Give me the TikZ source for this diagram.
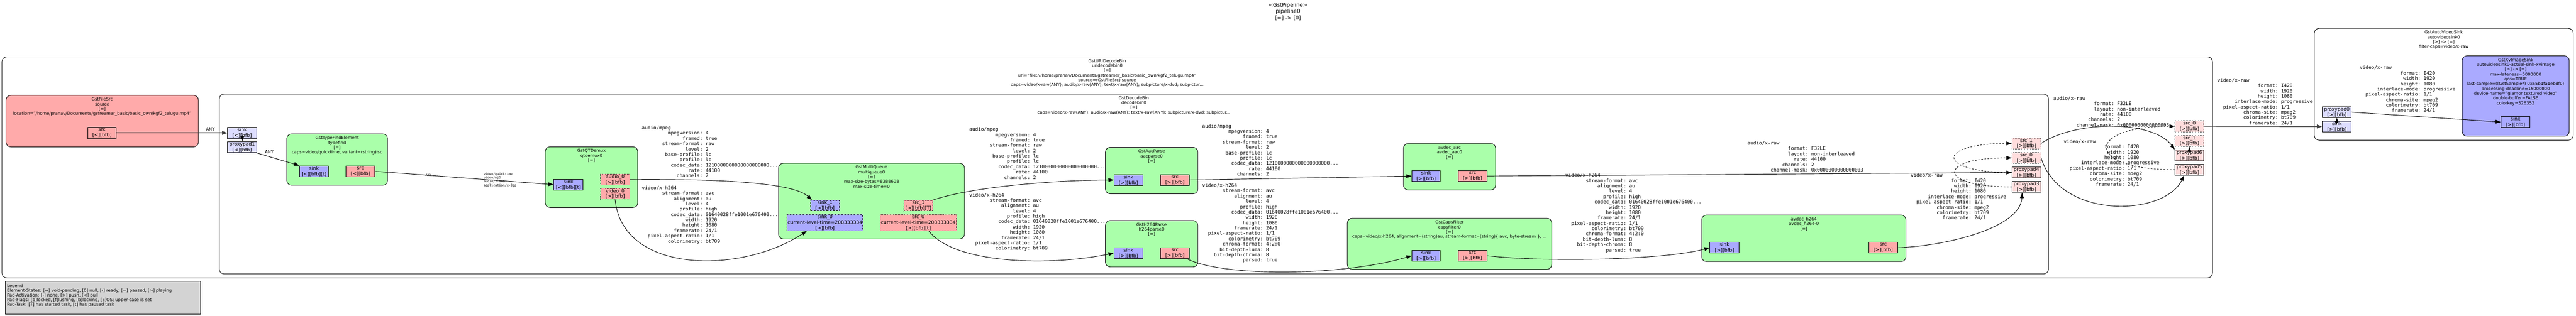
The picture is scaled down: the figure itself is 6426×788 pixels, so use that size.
\documentclass[tikz,border=0pt]{standalone}
\usepackage{fontspec}
\setmainfont{DejaVu Sans}
\newfontfamily\capsfont{DejaVu Sans Mono}
\usetikzlibrary{arrows.meta}
\definecolor{srcpadc}{HTML}{FFAAAA}
\definecolor{sinkpadc}{HTML}{AAAAFF}
\definecolor{gsrcc}{HTML}{FFDDDD}
\definecolor{gsinkc}{HTML}{DDDDFF}
\definecolor{greenc}{HTML}{AAFFAA}
\definecolor{legendc}{HTML}{D3D3D3}
\definecolor{thickc}{HTML}{404040}
\newcommand\cf[2]{\hspace*{1.204em}\makebox[10.836em][r]{#1}:\ #2}
\newcommand\capsAM{audio/mpeg\\ \cf{mpegversion}{4}\\ \cf{framed}{true}\\ \cf{stream-format}{raw}\\ \cf{level}{2}\\ \cf{base-profile}{lc}\\ \cf{profile}{lc}\\ \cf{codec\_data}{1210000000000000000000...}\\ \cf{rate}{44100}\\ \cf{channels}{2}}
\newcommand\capsVH{video/x-h264\\ \cf{stream-format}{avc}\\ \cf{alignment}{au}\\ \cf{level}{4}\\ \cf{profile}{high}\\ \cf{codec\_data}{01640028ffe1001e676400...}\\ \cf{width}{1920}\\ \cf{height}{1080}\\ \cf{framerate}{24/1}\\ \cf{pixel-aspect-ratio}{1/1}\\ \cf{colorimetry}{bt709}}
\newcommand\capsVHP{\capsVH\\ \cf{chroma-format}{4:2:0}\\ \cf{bit-depth-luma}{8}\\ \cf{bit-depth-chroma}{8}\\ \cf{parsed}{true}}
\newcommand\capsAR{audio/x-raw\\ \cf{format}{F32LE}\\ \cf{layout}{non-interleaved}\\ \cf{rate}{44100}\\ \cf{channels}{2}\\ \cf{channel-mask}{0x0000000000000003}}
\newcommand\capsVR{video/x-raw\\ \cf{format}{I420}\\ \cf{width}{1920}\\ \cf{height}{1080}\\ \cf{interlace-mode}{progressive}\\ \cf{pixel-aspect-ratio}{1/1}\\ \cf{chroma-site}{mpeg2}\\ \cf{colorimetry}{bt709}\\ \cf{framerate}{24/1}}
\newcommand\padn[7]{\node[#2, minimum width={(#5-#3)*0.75pt}, minimum height={(#6-#4)*0.75pt}] (#1) at ({(#3+#5)/2},{(#4+#6)/2}) {#7};}
\newcommand\boxn[6]{\node[#2, minimum width={(#5-#3)*0.75pt}, minimum height={(#6-#4)*0.75pt}] (#1) at ({(#3+#5)/2},{(#4+#6)/2}) {};}
\tikzset{
  padbox/.style={draw=black, line width=0.9pt, inner sep=0pt, align=center, font=\fontsize{9}{10.5}\selectfont},
  srcp/.style={padbox, fill=srcpadc},
  sinkp/.style={padbox, fill=sinkpadc},
  gsrcp/.style={padbox, fill=gsrcc},
  gsinkp/.style={padbox, fill=gsinkc},
  dotp/.style={dotted},
  dashp/.style={dashed},
  elembox/.style={draw=black, line width=0.9pt, rounded corners=9pt, inner sep=0pt},
  greenbox/.style={elembox, fill=greenc},
  binbox/.style={elembox, fill=white},
  elabel/.style={align=center, inner sep=0pt, font=\fontsize{8}{9}\selectfont, anchor=north},
  capslbl/.style={align=left, inner sep=0pt, font=\capsfont\fontsize{9}{10}\selectfont, anchor=north west},
  smallcaps/.style={align=left, inner sep=0pt, font=\capsfont\fontsize{6}{7}\selectfont},
  conn/.style={draw=black, line width=0.9pt, -{Triangle[length=10pt,width=7pt]}},
  ghostedge/.style={conn, dashed},
  thickedge/.style={conn, draw=thickc, line width=1.6pt},
}
\begin{document}
\begin{tikzpicture}[x=0.75pt,y=-0.75pt]
\useasboundingbox (0,0) rectangle (6426,788);
\fill[white] (0,0) rectangle (6426,788);
% title
\node[align=center, inner sep=0pt, anchor=north, font=\fontsize{10}{12}\selectfont] (title) at (3213,7) {<GstPipeline>\\pipeline0\\{}[=] -> [0]};
% clusters
\boxn{udb}{binbox}{5}{142}{5519}{694}
\node[elabel] (udbl) at ([yshift=-4.5pt]udb.north) {GstURIDecodeBin\\uridecodebin0\\{}[=]\\uri="file:///home/pranav/Documents/gstreamer\_basic/basic\_own/kgf2\_telugu.mp4"\\source=(GstFileSrc) source\\caps=video/x-raw(ANY); audio/x-raw(ANY); text/x-raw(ANY); subpicture/x-dvd; subpictur...};
\boxn{db}{binbox,draw=black!65,line width=1.5pt}{547}{235}{5110}{684}
\node[elabel] (dbl) at ([yshift=-4.5pt]db.north) {GstDecodeBin\\decodebin0\\{}[=]\\caps=video/x-raw(ANY); audio/x-raw(ANY); text/x-raw(ANY); subpicture/x-dvd; subpictur...};
\boxn{avs}{binbox}{5773}{71}{6419}{350}
\node[elabel] (avsl) at ([yshift=-4.5pt]avs.north) {GstAutoVideoSink\\autovideosink0\\{}[>] -> [=]\\filter-caps=video/x-raw};
% elements
\boxn{fs}{elembox,fill=srcpadc}{15}{238}{495}{367}
\node[elabel] (fsl) at ([yshift=-4.5pt]fs.north) {GstFileSrc\\source\\{}[=]\\location="/home/pranav/Documents/gstreamer\_basic/basic\_own/kgf2\_telugu.mp4"};
\boxn{tf}{greenbox}{715.5}{334.3}{966.8}{462.7}
\node[elabel] (tfl) at ([yshift=-4.5pt]tf.north) {GstTypeFindElement\\typefind\\{}[=]\\caps=video/quicktime, variant=(string)iso};
\boxn{qd}{greenbox}{1360}{366.7}{1591}{518.3}
\node[elabel] (qdl) at ([yshift=-4.5pt]qd.north) {GstQTDemux\\qtdemux0\\{}[=]};
\boxn{mq}{greenbox}{1942}{407.7}{2406}{596.7}
\node[elabel] (mql) at ([yshift=-4.5pt]mq.north) {GstMultiQueue\\multiqueue0\\{}[=]\\max-size-bytes=8388608\\max-size-time=0};
\boxn{ap}{greenbox}{2757.5}{368}{2988}{484}
\node[elabel] (apl) at ([yshift=-4.5pt]ap.north) {GstAacParse\\aacparse0\\{}[=]};
\boxn{hp}{greenbox}{2757.5}{550.7}{2988}{666.7}
\node[elabel] (hpl) at ([yshift=-4.5pt]hp.north) {GstH264Parse\\h264parse0\\{}[=]};
\boxn{aa}{greenbox}{3501}{358.5}{3731}{474.5}
\node[elabel] (aal) at ([yshift=-4.5pt]aa.north) {avdec\_aac\\avdec\_aac0\\{}[=]};
\boxn{cf}{greenbox}{3361}{545}{3871}{672.7}
\node[elabel] (cfl) at ([yshift=-4.5pt]cf.north) {GstCapsFilter\\capsfilter0\\{}[=]\\caps=video/x-h264, alignment=(string)au, stream-format=(string)\{ avc, byte-stream \}, ...};
\boxn{ah}{greenbox}{4245}{537}{4754.5}{653.2}
\node[elabel] (ahl) at ([yshift=-4.5pt]ah.north) {avdec\_h264\\avdec\_h264-0\\{}[=]};
\boxn{xv}{elembox,fill=sinkpadc}{6142}{139.4}{6409}{340.2}
\node[elabel] (xvl) at ([yshift=-4.5pt]xv.north) {GstXvImageSink\\autovideosink0-actual-sink-xvimage\\{}[>] -> [=]\\max-lateness=5000000\\qos=TRUE\\last-sample=((GstSample*) 0x55b1fa1ebdf0)\\processing-deadline=15000000\\device-name="glamor textured video"\\double-buffer=FALSE\\colorkey=526352};
% pads
\padn{fssrc}{srcp}{219}{318}{290}{346}{src\\{}[<][bfb]}
\padn{dbsink}{gsinkp}{568}{318}{640}{346}{sink\\{}[<][bfb]}
\padn{dbpp1}{gsinkp}{568}{354}{640}{381.5}{proxypad1\\{}[<][bfb]}
\padn{tfsink}{sinkp}{747.4}{414}{819.4}{441.7}{sink\\{}[<][bfb][t]}
\padn{tfsrc}{srcp}{862.8}{414}{935.5}{441.7}{src\\{}[<][bfb]}
\padn{qdsink}{sinkp}{1381.5}{447.7}{1454.5}{474.3}{sink\\{}[<][bfb][t]}
\padn{qdaudio}{srcp,dotp}{1498.4}{435}{1570.5}{461.7}{audio\_0\\{}[>][bfb]}
\padn{qdvideo}{srcp,dotp}{1498.4}{470.7}{1570.5}{497.3}{video\_0\\{}[>][bfb]}
\padn{mqsinka}{sinkp,dashp}{2022}{500}{2094}{526.7}{sink\_1\\{}[>][bfb]}
\padn{mqsrca}{srcp,dotp}{2255}{500}{2327}{526.7}{src\_1\\{}[>][bfb][T]}
\padn{mqsinkv}{sinkp,dashp}{1963.5}{535.7}{2152.6}{576}{sink\_0\\current-level-time=208333334\\{}[>][bfb]}
\padn{mqsrcv}{srcp,dotp}{2195.6}{535.7}{2386}{576}{src\_0\\current-level-time=208333334\\{}[>][bfb][t]}
\padn{apsink}{sinkp}{2779}{436}{2851}{463}{sink\\{}[>][bfb]}
\padn{apsrc}{srcp}{2895}{436}{2967}{463}{src\\{}[>][bfb]}
\padn{hpsink}{sinkp}{2779}{618.3}{2851}{645.7}{sink\\{}[>][bfb]}
\padn{hpsrc}{srcp}{2895}{618.3}{2967}{645.7}{src\\{}[>][bfb]}
\padn{aasink}{sinkp}{3522}{426}{3593}{453.4}{sink\\{}[>][bfb]}
\padn{aasrc}{srcp}{3638}{426}{3709}{453.4}{src\\{}[>][bfb]}
\padn{cfsink}{sinkp}{3522}{625}{3593}{652.3}{sink\\{}[>][bfb]}
\padn{cfsrc}{srcp}{3638}{625}{3709}{652.3}{src\\{}[>][bfb]}
\padn{ahsink}{sinkp}{4265.4}{604.8}{4338.3}{632.2}{sink\\{}[>][bfb]}
\padn{ahsrc}{srcp}{4661.7}{604.8}{4733.8}{632.2}{src\\{}[>][bfb]}
\padn{dbsrca}{gsrcp,dotp}{5019}{344.5}{5091}{372}{src\_1\\{}[>][bfb]}
\padn{dbsrcv}{gsrcp,dotp}{5019}{380.6}{5091}{408}{src\_0\\{}[>][bfb]}
\padn{dbppa}{gsrcp}{5019}{417}{5091}{444.5}{proxypad4\\{}[>][bfb]}
\padn{dbppv}{gsrcp}{5019}{453}{5091}{480.6}{proxypad3\\{}[>][bfb]}
\padn{udsrcv}{gsrcp,dotp}{5425.6}{301.5}{5497.5}{329.2}{src\_0\\{}[>][bfb]}
\padn{udsrca}{gsrcp,dotp}{5425.6}{338}{5497.5}{365.5}{src\_1\\{}[>][bfb]}
\padn{udppa}{gsrcp}{5425.6}{374}{5497.5}{401.5}{proxypad6\\{}[>][bfb]}
\padn{udppv}{gsrcp}{5425.6}{410.4}{5497.5}{437.4}{proxypad5\\{}[>][bfb]}
\padn{avpp}{gsinkp}{5793.5}{266.8}{5865.4}{293.3}{proxypad0\\{}[>][bfb]}
\padn{avsink}{gsinkp}{5793.5}{302.7}{5865.4}{329.2}{sink\\{}[>][bfb]}
\padn{xvsink}{sinkp}{6239}{291}{6311}{318.6}{sink\\{}[>][bfb]}
% edges
\draw[thickedge] (fssrc.east) -- (dbsink.west);
\draw[ghostedge] ([yshift=6pt]dbsink.south) -- (dbpp1.north);
\draw[conn] (dbpp1.south east) -- (tfsink.north west);
\draw[conn] (tfsrc.east) -- (qdsink.west);
\draw[conn] (qdaudio.east) .. controls (1850,446) and (1985,462) .. ([xshift=3pt]mqsinka.north west);
\draw[conn] (qdvideo.south) .. controls (1552,685) and (1850,685) .. ([xshift=-34pt]mqsinkv.south);
\draw[conn] (mqsrca.north east) .. controls (2420,468) and (2620,450) .. (apsink.west);
\draw[conn] ([xshift=19.6pt]mqsrcv.south) .. controls (2380,660) and (2620,665) .. (hpsink.west);
\draw[conn] (apsrc.east) -- (aasink.west);
\draw[conn] ([xshift=-5pt]hpsrc.south east) .. controls (3050,692) and (3350,690) .. (cfsink.west);
\draw[conn] (cfsrc.east) .. controls (3850,655) and (4150,650) .. (ahsink.west);
\draw[conn] (aasrc.east) -- (dbppa.west);
\draw[conn] (ahsrc.east) .. controls (4850,615) and (5040,570) .. ([xshift=-8pt]dbppv.south);
\draw[ghostedge] (dbppa.west) .. controls +(-190,0) and +(-190,0) .. (dbsrca.west);
\draw[ghostedge] (dbppv.west) .. controls +(-188,0) and +(-188,0) .. (dbsrcv.west);
\draw[conn] (dbsrca.east) .. controls (5180,300) and (5370,300) .. (udppa.north west);
\draw[conn] (dbsrcv.east) .. controls (5140,550) and (5400,540) .. ([xshift=-10pt]udppv.south);
\draw[ghostedge] (udppv.west) .. controls +(-225,0) and +(-225,0) .. (udsrcv.west);
\draw[ghostedge] ([yshift=-6pt]udppa.north) -- (udsrca.south);
\draw[thickedge] (udsrcv.east) -- (avsink.west);
\draw[ghostedge] ([yshift=-6pt]avsink.north) -- (avpp.south);
\draw[conn] (avpp.east) -- (xvsink.west);
% edge labels
\node[capslbl, anchor=center] (anyA) at (525,323) {ANY};
\node[capslbl, anchor=center] (anyB) at (672,379) {ANY};
\node[smallcaps, anchor=center] (anyC) at (1069,437.7) {ANY};
\node[smallcaps, anchor=north west] (headq) at (1206,431) {video/quicktime\\video/mj2\\audio/x-m4a\\application/x-3gp};
\node[capslbl] (capsA1) at (1601,314) {\capsAM};
\node[capslbl] (capsV1) at (1601,464) {\capsVH};
\node[capslbl] (capsA2) at (2418,318) {\capsAM};
\node[capslbl] (capsV2) at (2418,481.7) {\capsVH};
\node[capslbl] (capsA3) at (2999,309.6) {\capsAM};
\node[capslbl] (capsV3) at (2999,457.8) {\capsVHP};
\node[capslbl] (capsV4) at (3905,432.5) {\capsVHP};
\node[capslbl] (capsR1) at (4359,352.5) {\capsAR};
\node[capslbl] (capsR2) at (4766,432.5) {\capsVR};
\node[capslbl] (capsR3) at (5122,240.3) {\capsAR};
\node[capslbl] (capsR4) at (5148,348.5) {\capsVR};
\node[capslbl] (capsR5) at (5531,195.4) {\capsVR};
\node[capslbl] (capsR6) at (5886.5,164) {\capsVR};
% legend
\boxn{legend}{draw=black, line width=0.9pt, fill=legendc, inner sep=0pt}{14}{702}{500}{785}
\node[align=left, inner sep=0pt, anchor=north west, font=\fontsize{8}{8.6}\selectfont] (legendt) at (17.5,710) {Legend\\Element-States: [\textasciitilde] void-pending, [0] null, [-] ready, [=] paused, [>] playing\\Pad-Activation: [-] none, [>] push, [<] pull\\Pad-Flags: [b]locked, [f]lushing, [b]locking, [E]OS; upper-case is set\\Pad-Task: [T] has started task, [t] has paused task};
\end{tikzpicture}
\end{document}
